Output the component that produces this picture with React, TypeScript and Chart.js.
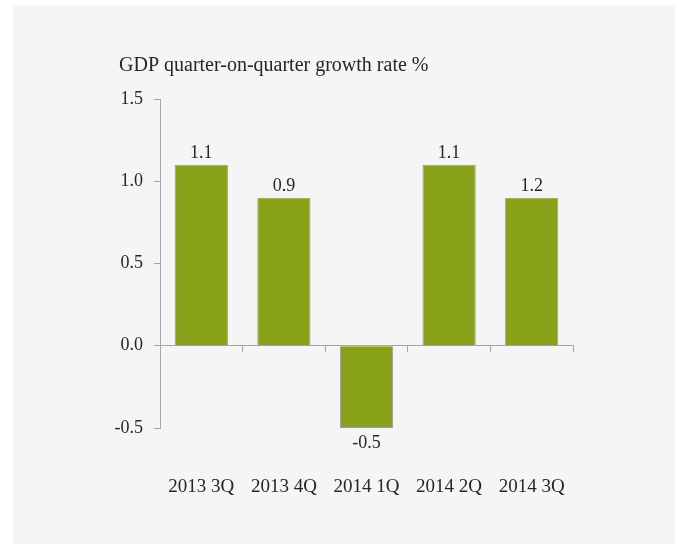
import React, { useEffect, useRef } from "react";
import { Chart, registerables } from "chart.js";

Chart.register(...registerables);

const categories = ["2013 3Q", "2013 4Q", "2014 1Q", "2014 2Q", "2014 3Q"];
const barValues = [1.1, 0.9, -0.5, 1.1, 0.9];
const valueLabels = ["1.1", "0.9", "-0.5", "1.1", "1.2"];
const titleText = "GDP quarter-on-quarter growth rate %";

const FONT = "'Liberation Serif', 'Times New Roman', serif";
const TEXT = "#262626";
const AXIS = "#a6a6a6";

const titlePlugin = {
  id: "leftTitle",
  afterDraw(chart: any) {
    const ctx = chart.ctx;
    ctx.save();
    ctx.font = `20px ${FONT}`;
    ctx.fillStyle = TEXT;
    ctx.textAlign = "left";
    ctx.textBaseline = "alphabetic";
    ctx.fillText(titleText, 119, 71);
    ctx.restore();
  },
};

const valueLabelPlugin = {
  id: "valueLabels",
  afterDatasetsDraw(chart: any) {
    const meta = chart.getDatasetMeta(0);
    const ctx = chart.ctx;
    ctx.save();
    ctx.font = `18px ${FONT}`;
    ctx.fillStyle = TEXT;
    ctx.textAlign = "center";
    ctx.textBaseline = "alphabetic";
    meta.data.forEach((bar: any, i: number) => {
      const v = barValues[i];
      const label = valueLabels[i];
      if (v >= 0) {
        ctx.fillText(label, bar.x, bar.y - 7);
      } else {
        ctx.fillText(label, bar.x, bar.y + 20);
      }
    });
    ctx.restore();
  },
};

export default function App() {
  const ref = useRef<HTMLCanvasElement | null>(null);

  useEffect(() => {
    if (!ref.current) return;
    const chart = new Chart(ref.current, {
      type: "bar",
      data: {
        labels: categories,
        datasets: [
          {
            data: barValues,
            backgroundColor: "#87a219",
            borderColor: "#9d9d9d",
            borderWidth: 1,
            barPercentage: 0.645,
            categoryPercentage: 1,
          },
        ],
      },
      options: {
        responsive: false,
        animation: false,
        events: [],
        layout: { padding: { left: 90, right: 107, top: 99, bottom: 0 } },
        plugins: {
          legend: { display: false },
          tooltip: { enabled: false },
          title: { display: false },
        },
        scales: {
          x: {
            type: "category",
            axis: "x",
            position: { y: 0 },
            offset: true,
            grid: {
              display: true,
              offset: true,
              drawOnChartArea: false,
              drawTicks: true,
              tickLength: 6,
              color: AXIS,
            },
            border: { display: true, color: AXIS, width: 1 },
            ticks: { display: false },
          },
          xLabels: {
            type: "category",
            axis: "x",
            position: "bottom",
            offset: true,
            grid: { display: false },
            border: { display: false },
            ticks: {
              color: TEXT,
              font: { family: FONT, size: 19 },
              padding: 40,
              maxRotation: 0,
              autoSkip: false,
            },
            afterFit(scale: any) {
              scale.height = 116;
            },
          },
          y: {
            min: -0.5,
            max: 1.5,
            grid: {
              display: true,
              drawOnChartArea: false,
              drawTicks: true,
              tickLength: 6,
              color: AXIS,
            },
            border: { display: true, color: AXIS, width: 1 },
            ticks: {
              stepSize: 0.5,
              color: TEXT,
              font: { family: FONT, size: 18 },
              padding: 11,
              callback: (v: any) => Number(v).toFixed(1),
            },
            afterFit(scale: any) {
              scale.width = 70;
            },
          },
        },
      },
      plugins: [valueLabelPlugin, titlePlugin],
    } as any);
    return () => chart.destroy();
  }, []);

  return (
    <div
      style={{
        position: "fixed",
        left: 0,
        top: 0,
        width: 680,
        height: 544,
        background: "#ffffff",
        overflow: "hidden",
      }}
    >
      <div
        style={{
          position: "absolute",
          left: 13,
          top: 5,
          width: 662,
          height: 539,
          background: "#f5f5f5",
        }}
      />
      <canvas
        ref={ref}
        width={680}
        height={544}
        style={{ position: "absolute", left: 0, top: 0, width: 680, height: 544 }}
      />
    </div>
  );
}
